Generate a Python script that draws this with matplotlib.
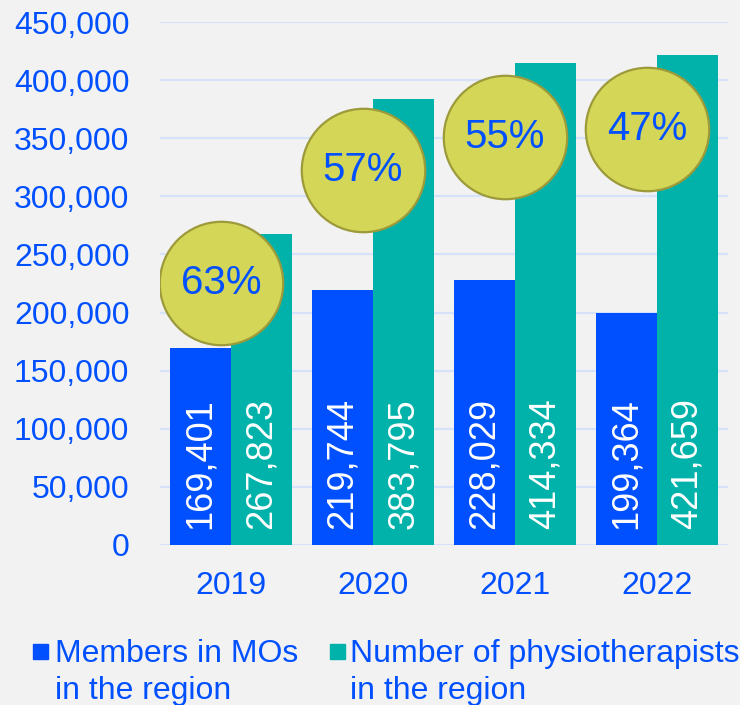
import matplotlib
matplotlib.use('Agg')
import matplotlib.pyplot as plt
import matplotlib.patches as mpatches
from matplotlib.ticker import FuncFormatter
import numpy as np

# data
years = ['2019', '2020', '2021', '2022']
members = [169401, 219744, 228029, 199364]
physios = [267823, 383795, 414334, 421659]
bubble_y = [225400, 322650, 351050, 357900]   # where the share bubbles sit

blue = '#0050FF'
teal = '#00B2A9'
bubble = '#D3D656'
bubble_edge = '#9C9A3A'
bg = '#F2F2F2'

plt.rcParams['font.family'] = ['Liberation Sans', 'DejaVu Sans']

fig = plt.figure(figsize=(7.4, 7.05), dpi=100, facecolor=bg)
ax = fig.add_axes([160/740, 1-545/705, 568/740, 523/705])
ax.set_facecolor(bg)

x = np.arange(len(years))
w = 0.43
ax.bar(x - w/2, members, w, color=blue, zorder=2)
ax.bar(x + w/2, physios, w, color=teal, zorder=2)

# value labels inside bars, vertical
for i in range(len(years)):
    ax.text(x[i] - w/2, 13500, f'{members[i]:,}', rotation=90, ha='center', va='bottom',
            color='white', fontsize=26, zorder=3)
    ax.text(x[i] + w/2, 13500, f'{physios[i]:,}', rotation=90, ha='center', va='bottom',
            color='white', fontsize=26, zorder=3)

# share bubbles
share = [m / p * 100 for m, p in zip(members, physios)]
ax.scatter(x - 0.07, bubble_y, s=7900, color=bubble, edgecolor=bubble_edge, linewidth=1.6, zorder=4)
for i in range(len(years)):
    ax.text(x[i] - 0.07, bubble_y[i], f'{share[i]:.0f}%', ha='center', va='center',
            color=blue, fontsize=29, zorder=5)

ax.set_xlim(-0.5, 3.5)
ax.set_ylim(0, 450000)
ax.set_yticks(range(0, 450001, 50000))
ax.yaxis.set_major_formatter(FuncFormatter(lambda v, p: f'{int(v):,}'))
ax.set_xticks(x)
ax.set_xticklabels(years)
ax.tick_params(axis='both', length=0, labelsize=23, labelcolor=blue)
ax.tick_params(axis='y', pad=22)
ax.tick_params(axis='x', pad=19)
ax.grid(axis='y', color='#D6E1FA', linewidth=1.6, zorder=0)
for s in ax.spines.values():
    s.set_visible(False)

# legend drawn by hand
fig.patches.append(mpatches.Rectangle((33/740, 1-659/705), 15/740, 15/705,
                                      transform=fig.transFigure, color=blue))
fig.patches.append(mpatches.Rectangle((330/740, 1-659/705), 15/740, 15/705,
                                      transform=fig.transFigure, color=teal))
fig.text(55/740, 1-639/705, 'Members in MOs\nin the region', ha='left', va='top',
         color=blue, fontsize=23, linespacing=1.32)
fig.text(350/740, 1-639/705, 'Number of physiotherapists\nin the region', ha='left', va='top',
         color=blue, fontsize=23, linespacing=1.32)

fig.savefig('out.png', dpi=100, facecolor=bg)
